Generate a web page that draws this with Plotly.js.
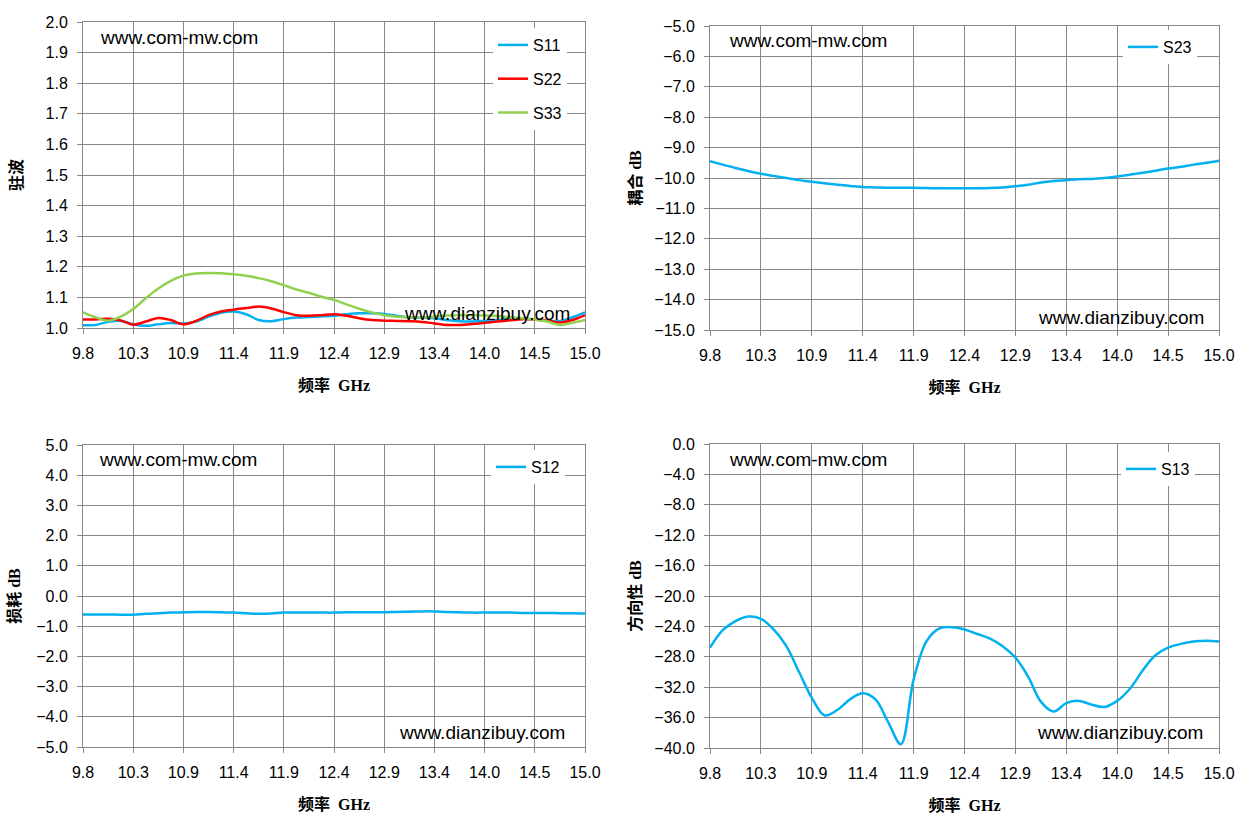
<!DOCTYPE html>
<html>
<head>
<meta charset="utf-8">
<script src="https://cdn.plot.ly/plotly-3.0.1.min.js"></script>
<style>
  html, body { margin: 0; padding: 0; background: #fff; }
  #chart { width: 1251px; height: 830px; }
</style>
</head>
<body>
<div id="chart"></div>
<script>
// frequency points (GHz), read every 0.13 GHz
const freq = [9.80, 9.93, 10.06, 10.19, 10.32, 10.45, 10.58, 10.71, 10.84, 10.97,
  11.10, 11.23, 11.36, 11.49, 11.62, 11.75, 11.88, 12.01, 12.14, 12.27,
  12.40, 12.53, 12.66, 12.79, 12.92, 13.05, 13.18, 13.31, 13.44, 13.57,
  13.70, 13.83, 13.96, 14.09, 14.22, 14.35, 14.48, 14.61, 14.74, 14.87, 15.00];
const xTickVals = [9.8, 10.32, 10.84, 11.36, 11.88, 12.4, 12.92, 13.44, 13.96, 14.48, 15.0];
const xTickText = ["9.8", "10.3", "10.9", "11.4", "11.9", "12.4", "12.9", "13.4", "14.0", "14.5", "15.0"];

// VSWR
const s11 = [1.009, 1.010, 1.020, 1.023, 1.012, 1.007, 1.012, 1.016, 1.015, 1.021,
  1.037, 1.050, 1.054, 1.045, 1.026, 1.022, 1.029, 1.034, 1.036, 1.038,
  1.040, 1.045, 1.048, 1.048, 1.046, 1.040, 1.035, 1.034, 1.032, 1.026,
  1.022, 1.021, 1.023, 1.026, 1.029, 1.030, 1.028, 1.023, 1.023, 1.035, 1.051];
const s22 = [1.028, 1.028, 1.030, 1.025, 1.011, 1.021, 1.033, 1.026, 1.012, 1.023,
  1.042, 1.054, 1.060, 1.065, 1.070, 1.064, 1.052, 1.042, 1.040, 1.042,
  1.045, 1.040, 1.032, 1.026, 1.024, 1.023, 1.022, 1.020, 1.015, 1.010,
  1.010, 1.013, 1.017, 1.021, 1.025, 1.029, 1.028, 1.024, 1.018, 1.026, 1.042];
const s33 = [1.051, 1.035, 1.024, 1.037, 1.062, 1.097, 1.129, 1.154, 1.171, 1.178,
  1.180, 1.179, 1.176, 1.171, 1.163, 1.153, 1.140, 1.126, 1.115, 1.102,
  1.092, 1.077, 1.063, 1.051, 1.042, 1.037, 1.035, 1.035, 1.037, 1.041,
  1.042, 1.042, 1.041, 1.039, 1.035, 1.032, 1.028, 1.021, 1.010, 1.017, 1.026];
// coupling dB
const s23 = [-9.45, -9.56, -9.67, -9.77, -9.86, -9.93, -10.00, -10.07, -10.12, -10.17,
  -10.22, -10.26, -10.30, -10.31, -10.32, -10.32, -10.32, -10.33, -10.34, -10.34,
  -10.34, -10.34, -10.33, -10.31, -10.27, -10.22, -10.15, -10.10, -10.07, -10.04,
  -10.03, -10.00, -9.95, -9.89, -9.83, -9.76, -9.69, -9.63, -9.56, -9.50, -9.43];
// insertion loss dB
const s12 = [-0.61, -0.61, -0.61, -0.62, -0.62, -0.59, -0.57, -0.55, -0.54, -0.53,
  -0.53, -0.54, -0.55, -0.57, -0.59, -0.58, -0.55, -0.55, -0.55, -0.55,
  -0.55, -0.54, -0.54, -0.54, -0.54, -0.53, -0.52, -0.51, -0.51, -0.53,
  -0.54, -0.55, -0.55, -0.55, -0.55, -0.56, -0.56, -0.56, -0.57, -0.57, -0.58];
// directivity dB
const s13 = [-26.8, -24.5, -23.3, -22.7, -23.0, -24.4, -26.6, -30.0, -33.4, -35.7,
  -35.0, -33.6, -32.8, -33.6, -36.6, -39.5, -31.0, -26.0, -24.3, -24.1,
  -24.4, -25.0, -25.6, -26.6, -28.1, -30.6, -33.9, -35.2, -34.1, -33.8,
  -34.3, -34.6, -33.8, -32.2, -29.8, -27.8, -26.8, -26.3, -26.0, -25.9, -26.0];

const W = 1251, H = 830;
const GRID = "#878787";
const SANS = "Liberation Sans, Arial, sans-serif";
const TITLE_FONT = { family: "Liberation Serif, Noto Sans CJK SC, serif", size: 16, color: "#000", weight: "bold" };

const px = (x) => x / W;
const py = (y) => 1 - y / H;

function xAxis(x0, x1, anchor) {
  return {
    domain: [px(x0), px(x1)], anchor: anchor,
    type: "linear", range: [9.8, 15.0],
    tickmode: "array", tickvals: xTickVals, ticktext: xTickText,
    showgrid: true, gridcolor: GRID, gridwidth: 1,
    showline: true, linecolor: GRID, mirror: true, zeroline: false,
    ticks: "outside", ticklen: 5, tickcolor: GRID,
    tickfont: { family: SANS, size: 16, color: "#000" },
    ticklabelstandoff: 6,
    title: { text: "频率  GHz", font: TITLE_FONT, standoff: 18 },
    automargin: false, fixedrange: true,
  };
}

function yAxis(y0, y1, anchor, range, dtick, title, standoff) {
  return {
    domain: [py(y1), py(y0)], anchor: anchor,
    range: range, dtick: dtick, tick0: range[0], tickformat: ".1f",
    showgrid: true, gridcolor: GRID, gridwidth: 1,
    showline: true, linecolor: GRID, mirror: true, zeroline: false,
    ticks: "outside", ticklen: 5, tickcolor: GRID,
    tickfont: { family: SANS, size: 16, color: "#000" },
    ticklabelstandoff: 6,
    title: { text: title, font: TITLE_FONT, standoff: standoff },
    automargin: false, fixedrange: true,
  };
}

function line(y, name, color, xa, ya, legend) {
  return {
    x: freq, y: y, name: name, type: "scatter", mode: "lines",
    line: { color: color, width: 2.5, shape: "spline", smoothing: 1 },
    xaxis: xa, yaxis: ya, legend: legend, legendgroup: name,
    hoverinfo: "x+y+name",
  };
}

const traces = [
  line(s11, "S11", "#00B0F0", "x", "y", "legend"),
  line(s22, "S22", "#FF0000", "x", "y", "legend"),
  line(s33, "S33", "#92D050", "x", "y", "legend"),
  line(s23, "S23", "#00B0F0", "x2", "y2", "legend2"),
  line(s12, "S12", "#00B0F0", "x3", "y3", "legend3"),
  line(s13, "S13", "#00B0F0", "x4", "y4", "legend4"),
];

function legendAt(x, y) {
  return {
    x: px(x), y: py(y), xanchor: "left", yanchor: "top",
    bgcolor: "#fff", borderwidth: 0, tracegroupgap: 10,
    font: { family: SANS, size: 16, color: "#000" },
  };
}

function note(text, x, y, anchor) {
  return {
    text: text, xref: "paper", yref: "paper", x: px(x), y: py(y),
    xanchor: anchor, yanchor: "middle", showarrow: false,
    font: { family: SANS, size: 19, color: "#000" },
  };
}

const layout = {
  width: W, height: H,
  margin: { l: 0, r: 0, t: 0, b: 0 },
  paper_bgcolor: "#fff", plot_bgcolor: "#fff",
  showlegend: true,
  xaxis: xAxis(83, 585, "y"),
  yaxis: yAxis(22, 328, "x", [1.0, 2.0], 0.1, "驻波", 18),
  xaxis2: xAxis(710, 1219, "y2"),
  yaxis2: yAxis(26, 330, "x2", [-15, -5], 1, "耦合 dB", 8),
  xaxis3: xAxis(83, 585, "y3"),
  yaxis3: yAxis(445, 747, "x3", [-5, 5], 1, "损耗 dB", 11),
  xaxis4: xAxis(710, 1219, "y4"),
  yaxis4: yAxis(444, 748, "x4", [-40, 0], 4, "方向性 dB", 8),
  legend: legendAt(493, 28),
  legend2: legendAt(1123, 30),
  legend3: legendAt(491, 450),
  legend4: legendAt(1121, 452),
  annotations: [
    note("www.com-mw.com", 98, 38, "left"),
    note("www.dianzibuy.com", 572, 313, "right"),
    note("www.com-mw.com", 727, 41, "left"),
    note("www.dianzibuy.com", 1206, 317, "right"),
    note("www.com-mw.com", 97, 459, "left"),
    note("www.dianzibuy.com", 567, 732, "right"),
    note("www.com-mw.com", 727, 459, "left"),
    note("www.dianzibuy.com", 1205, 732, "right"),
  ],
};

Plotly.newPlot("chart", traces, layout, { displayModeBar: false });
</script>
</body>
</html>
